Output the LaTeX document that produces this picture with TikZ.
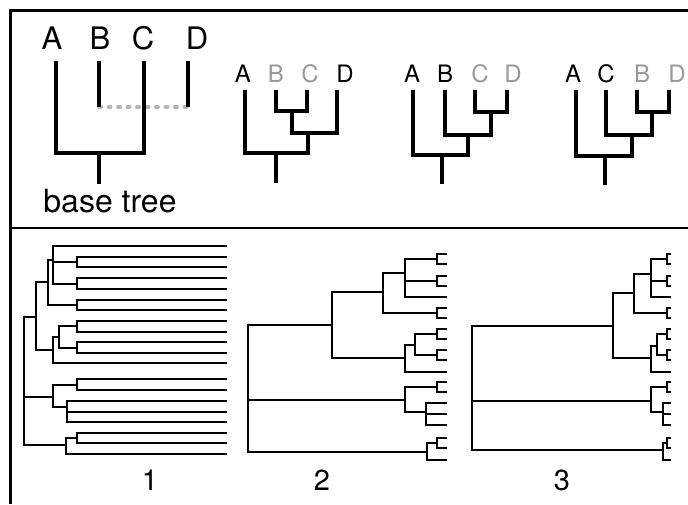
\documentclass[tikz,border=0pt]{standalone}
\usepackage{fontspec}
\setmainfont{TeX Gyre Heros}
\definecolor{lblgray}{HTML}{999999}
\definecolor{dotgray}{HTML}{B5B5B5}
\begin{document}
\begin{tikzpicture}[x=1pt,y=-1pt,
  frame/.style={line width=2.6pt},
  bigtree/.style={line width=4.6pt},
  smalltree/.style={line width=2pt},
  dotline/.style={dotgray,line width=4pt,line cap=round,dash pattern=on 2pt off 7.5pt},
  biglbl/.style={font=\fontsize{31}{31}\selectfont,anchor=base,inner sep=0pt},
  lbl/.style={font=\fontsize{24}{24}\selectfont,anchor=base,inner sep=0pt},
  glbl/.style={lbl,text=lblgray},
  numlbl/.style={font=\fontsize{29}{29}\selectfont,anchor=base,inner sep=0pt},
  txtlbl/.style={font=\fontsize{32}{32}\selectfont,anchor=base,inner sep=0pt}]
\useasboundingbox (0,0) rectangle (688,504);
\fill[white] (0,0) rectangle (688,504);
% frame
\coordinate (fTR) at (688,10.5);
\coordinate (fTL) at (10.7,10.5);
\coordinate (fBL) at (10.7,504);
\coordinate (mL) at (10.7,228);
\coordinate (mR) at (688,228);
\draw[frame] (fTR) -- (fTL) -- (fBL);
\draw[frame] (mL) -- (mR);

% ---------- base tree ----------
\node[biglbl] (l0A) at (52,49) {A};
\node[biglbl] (l0B) at (100,49) {B};
\node[biglbl] (l0C) at (143,49) {C};
\node[biglbl] (l0D) at (197,49) {D};
\coordinate (t0A) at (56,61);
\coordinate (t0B) at (99,61);
\coordinate (t0C) at (144,61);
\coordinate (t0D) at (188,61);
\coordinate (t0b) at (99,107);
\coordinate (t0d) at (188,107);
\coordinate (t0n) at (99,153);
\coordinate (t0r) at (99,184);
\draw[dotline] (t0b) -- (t0d);
\draw[bigtree] (t0A) |- (t0n) -| (t0C);
\draw[bigtree] (t0n) -- (t0r);
\draw[bigtree] (t0B) -- (t0b);
\draw[bigtree] (t0D) -- (t0d);
\node[txtlbl] (base) at (110,212) {base tree};

% ---------- tree 2 : A (B C) D ----------
\node[lbl] (l2A) at (243,82) {A};
\node[glbl] (l2B) at (276,82) {B};
\node[glbl] (l2C) at (310,82) {C};
\node[lbl] (l2D) at (345,82) {D};
\coordinate (t2A) at (245,90);
\coordinate (t2B) at (276,90);
\coordinate (t2C) at (307,90);
\coordinate (t2D) at (337,90);
\coordinate (t2bc) at (292,111);
\coordinate (t2bcd) at (308,133);
\coordinate (t2n) at (276,153);
\coordinate (t2r) at (276,183);
\draw[bigtree] (t2B) |- (t2bc) -| (t2C);
\draw[bigtree] (t2bc) |- (t2bcd) -| (t2D);
\draw[bigtree] (t2A) |- (t2n) -| (t2bcd);
\draw[bigtree] (t2n) -- (t2r);

% ---------- tree 3 : A B (C D) ----------
\node[lbl] (l3A) at (412,82) {A};
\node[lbl] (l3B) at (445,82) {B};
\node[glbl] (l3C) at (480,82) {C};
\node[glbl] (l3D) at (513,82) {D};
\coordinate (t3A) at (413,90);
\coordinate (t3B) at (445,90);
\coordinate (t3C) at (475,90);
\coordinate (t3D) at (507,90);
\coordinate (t3cd) at (491,112);
\coordinate (t3bcd) at (468,135);
\coordinate (t3n) at (442,155);
\coordinate (t3r) at (442,184);
\draw[bigtree] (t3C) |- (t3cd) -| (t3D);
\draw[bigtree] (t3B) |- (t3bcd) -| (t3cd);
\draw[bigtree] (t3A) |- (t3n) -| (t3bcd);
\draw[bigtree] (t3n) -- (t3r);

% ---------- tree 4 : A C (B D) ----------
\node[lbl] (l4A) at (573,82) {A};
\node[lbl] (l4C) at (606,82) {C};
\node[glbl] (l4B) at (642,82) {B};
\node[glbl] (l4D) at (677,82) {D};
\coordinate (t4A) at (576,90);
\coordinate (t4C) at (606,90);
\coordinate (t4B) at (637,90);
\coordinate (t4D) at (669,90);
\coordinate (t4bd) at (652,112);
\coordinate (t4cbd) at (632,135);
\coordinate (t4n) at (605,156);
\coordinate (t4r) at (605,185);
\draw[bigtree] (t4B) |- (t4bd) -| (t4D);
\draw[bigtree] (t4C) |- (t4cbd) -| (t4bd);
\draw[bigtree] (t4A) |- (t4n) -| (t4cbd);
\draw[bigtree] (t4n) -- (t4r);

% ---------- panel 1 ----------
\foreach \n/\y in {1/245.7,2/256.7,3/267.3,4/278.3,5/289,6/300,7/310.3,8/321,9/331.7,10/342.3,
  11/353.3,12/363.3,13/379.3,14/390,15/401,16/411.7,17/422,18/432.7,19/443.3,20/454}
  \coordinate (a\n) at (227,\y);
\coordinate (aR) at (24,380);
\coordinate (ac) at (35.7,316.7);
\coordinate (ab) at (48.3,282.3);
\coordinate (aa) at (53.3,260);
\coordinate (ap1) at (77.3,262);
\coordinate (ap2) at (77.3,283.7);
\coordinate (ap3) at (77.3,305.2);
\coordinate (ad) at (53.3,350);
\coordinate (ae) at (59.3,337.3);
\coordinate (ap4) at (77.3,326.3);
\coordinate (ap5) at (77.3,347.8);
\coordinate (af) at (53.3,396.7);
\coordinate (ap6) at (77.3,384.7);
\coordinate (ag) at (66.7,406.7);
\coordinate (ah) at (65.7,445);
\coordinate (ap7) at (77.3,438);
\draw[smalltree] (aR) |- (ac) (aR) |- (af) (aR) |- (ah)
  (ac) |- (ab) (ac) |- (ad)
  (ab) |- (aa) (ab) |- (ap3)
  (aa) |- (a1) (aa) |- (ap1) (aa) |- (ap2)
  (ad) |- (ae) (ad) |- (a12)
  (ae) |- (ap4) (ae) |- (ap5)
  (af) |- (ap6) (af) |- (ag)
  (ag) |- (a15) (ag) |- (a16) (ag) |- (a17)
  (ah) |- (ap7) (ah) |- (a20)
  (ap1) |- (a2) (ap1) |- (a3)
  (ap2) |- (a4) (ap2) |- (a5)
  (ap3) |- (a6) (ap3) |- (a7)
  (ap4) |- (a8) (ap4) |- (a9)
  (ap5) |- (a10) (ap5) |- (a11)
  (ap6) |- (a13) (ap6) |- (a14)
  (ap7) |- (a18) (ap7) |- (a19);
\node[numlbl] (n1) at (150,490) {1};

% ---------- panel 2 ----------
\foreach \n/\y in {1/254,2/264,3/275.7,4/285.7,5/297.3,6/307.7,7/318.3,8/329,9/339,10/350,
  11/360,12/371.7,13/381.7,14/391.7,15/403.3,16/414,17/425,18/438,19/448,20/460}
  {\coordinate (b\n) at (446.7,\y); \coordinate (c\n) at (670.7,\y);}
\coordinate (bR) at (248.3,390);
\coordinate (bA) at (331.7,325);
\coordinate (bB) at (405,400);
\coordinate (bC) at (426.7,452.3);
\coordinate (bA1) at (383.3,292.3);
\coordinate (bA2) at (405,358.3);
\coordinate (bA1a) at (405,273.3);
\coordinate (bq1) at (436.7,259);
\coordinate (bq2) at (436.7,280.7);
\coordinate (bq3) at (436.7,312.7);
\coordinate (bA2a) at (415,345);
\coordinate (bq4) at (436.7,334);
\coordinate (bq5) at (436.7,355);
\coordinate (bq6) at (436.7,386.7);
\coordinate (bT) at (425.7,411.7);
\coordinate (bq7) at (436.7,443);
\draw[smalltree] (bR) |- (bA) (bR) |- (bB) (bR) |- (bC)
  (bA) |- (bA1) (bA) |- (bA2)
  (bA1) |- (bA1a) (bA1) |- (bq3)
  (bA1a) |- (bq1) (bA1a) |- (bq2) (bA1a) |- (b5)
  (bA2) |- (bA2a) (bA2) |- (b12)
  (bA2a) |- (bq4) (bA2a) |- (bq5)
  (bB) |- (bq6) (bB) |- (bT)
  (bT) |- (b15) (bT) |- (b16) (bT) |- (b17)
  (bC) |- (bq7) (bC) |- (b20)
  (bq1) |- (b1) (bq1) |- (b2)
  (bq2) |- (b3) (bq2) |- (b4)
  (bq3) |- (b6) (bq3) |- (b7)
  (bq4) |- (b8) (bq4) |- (b9)
  (bq5) |- (b10) (bq5) |- (b11)
  (bq6) |- (b13) (bq6) |- (b14)
  (bq7) |- (b18) (bq7) |- (b19);
\node[numlbl] (n2) at (322,490) {2};

% ---------- panel 3 ----------
\coordinate (cR) at (471.7,390);
\coordinate (cA) at (613.3,326);
\coordinate (cB) at (650.7,401);
\coordinate (cC) at (663.3,450);
\coordinate (cA1) at (634,293.3);
\coordinate (cA2) at (650.7,358.3);
\coordinate (cA1a) at (650.7,274);
\coordinate (cq1) at (667.3,259);
\coordinate (cq2) at (667.3,280.7);
\coordinate (cq3) at (667.3,312.7);
\coordinate (cA2a) at (657.3,346);
\coordinate (cq4) at (667.3,334);
\coordinate (cq5) at (667.3,355);
\coordinate (cq6) at (667.3,387);
\coordinate (cT) at (663.3,412);
\coordinate (cq7) at (667.3,443);
\draw[smalltree] (cR) |- (cA) (cR) |- (cB) (cR) |- (cC)
  (cA) |- (cA1) (cA) |- (cA2)
  (cA1) |- (cA1a) (cA1) |- (cq3)
  (cA1a) |- (cq1) (cA1a) |- (cq2) (cA1a) |- (c5)
  (cA2) |- (cA2a) (cA2) |- (c12)
  (cA2a) |- (cq4) (cA2a) |- (cq5)
  (cB) |- (cq6) (cB) |- (cT)
  (cT) |- (c15) (cT) |- (c16) (cT) |- (c17)
  (cC) |- (cq7) (cC) |- (c20)
  (cq1) |- (c1) (cq1) |- (c2)
  (cq2) |- (c3) (cq2) |- (c4)
  (cq3) |- (c6) (cq3) |- (c7)
  (cq4) |- (c8) (cq4) |- (c9)
  (cq5) |- (c10) (cq5) |- (c11)
  (cq6) |- (c13) (cq6) |- (c14)
  (cq7) |- (c18) (cq7) |- (c19);
\node[numlbl] (n3) at (562,490) {3};
\end{tikzpicture}
\end{document}
